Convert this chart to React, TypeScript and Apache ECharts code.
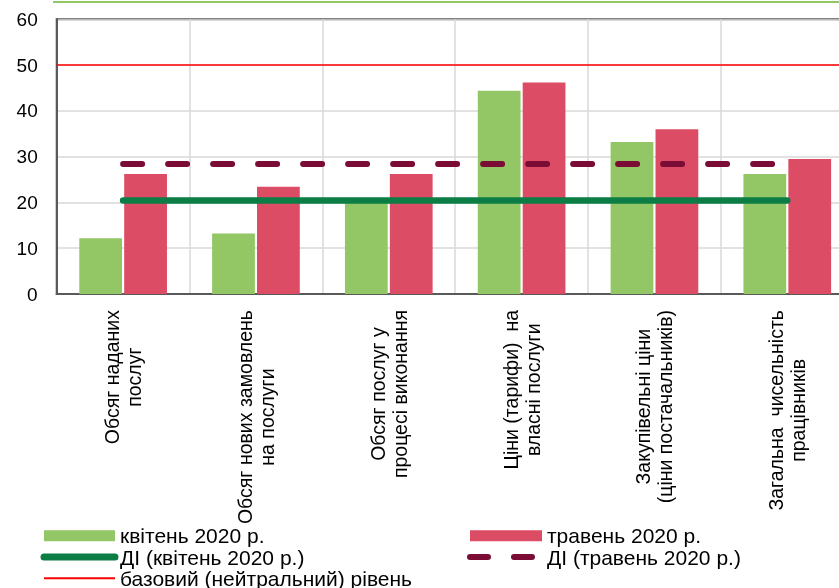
import React, { useEffect, useRef } from "react";
import * as echarts from "echarts";

const categories = [
  "Обсяг наданих\nпослуг",
  "Обсяг нових замовлень\nна послуги",
  "Обсяг послуг у\nпроцесі виконання",
  "Ціни (тарифи)  на\nвласні послуги",
  "Закупівельні ціни\n(ціни постачальників)",
  "Загальна  чисельність\nпрацівників",
];
const april = [12.2, 13.2, 20.6, 44.4, 33.2, 26.2];
const may = [26.2, 23.4, 26.2, 46.2, 36.0, 29.5];
const diApril = [20.4, 20.4, 20.4, 20.4, 20.4, 20.4];
const diMay = [28.4, 28.4, 28.4, 28.4, 28.4, 28.4];
const baseline = 50;

const nameApr = "квітень 2020 р.";
const nameMay = "травень 2020 р.";
const nameDiApr = "ДІ (квітень 2020 р.)";
const nameDiMay = "ДІ (травень 2020 р.)";
const nameBase = "базовий (нейтральний) рівень";

const FONT = "'Liberation Sans', Arial, sans-serif";
const GREEN = "#93C664";
const RED = "#DC4C65";
const DGREEN = "#0B7D45";
const MAROON = "#7B0C35";

const hiddenSymbol = { color: "rgba(0,0,0,0)", borderWidth: 0, opacity: 0 };

export default function App() {
  const ref = useRef<HTMLDivElement>(null);
  useEffect(() => {
    if (!ref.current) return;
    const chart = echarts.init(ref.current, undefined, { renderer: "svg" });
    const legendText = { fontSize: 21, lineHeight: 19, color: "#000", fontFamily: FONT };
    chart.setOption({
      animation: false,
      graphic: [
        {
          type: "line",
          shape: { x1: 53, y1: 2, x2: 839, y2: 2 },
          style: { stroke: "#92C765", lineWidth: 2 },
        },
      ],
      grid: {
        left: 56.7,
        top: 19.3,
        width: 797,
        bottom: 294,
        outerBoundsMode: "none",
        containLabel: false,
        show: true,
        borderColor: "#595959",
        borderWidth: 2,
        backgroundColor: "transparent",
      },
      legend: [
        {
          orient: "vertical",
          left: 40.5,
          top: 525.2,
          height: 80,
          padding: 0,
          itemGap: 0.3,
          itemWidth: 71,
          itemHeight: 11,
          selectedMode: false,
          textStyle: legendText,
          data: [
            { name: nameApr, icon: "rect" },
            {
              name: nameDiApr,
              lineStyle: { width: 7, cap: "round" },
              itemStyle: hiddenSymbol,
            },
            { name: nameBase, lineStyle: { width: 2 }, itemStyle: hiddenSymbol },
          ],
        },
        {
          orient: "vertical",
          left: 467,
          top: 525.2,
          height: 80,
          padding: 0,
          itemGap: 0.3,
          itemWidth: 72,
          itemHeight: 11,
          selectedMode: false,
          textStyle: legendText,
          data: [
            { name: nameMay, icon: "rect" },
            {
              name: nameDiMay,
              lineStyle: { width: 6, cap: "round", type: [18, 26] },
              itemStyle: hiddenSymbol,
            },
          ],
        },
      ],
      xAxis: {
        type: "category",
        data: categories,
        axisLine: { show: true, lineStyle: { color: "#595959", width: 2 } },
        axisTick: { show: false },
        splitLine: { show: true, interval: 0, lineStyle: { color: "#d9d9d9", width: 1.5 } },
        axisLabel: {
          interval: 0,
          rotate: 90,
          margin: 16,
          color: "#000",
          fontSize: 19.5,
          fontFamily: FONT,
          lineHeight: 22,
          formatter: (v: string) =>
            v
              .split("\n")
              .map((l) => `{c|${l}}`)
              .join("\n"),
          rich: {
            c: { align: "center", fontSize: 19.5, lineHeight: 22, color: "#000", fontFamily: FONT },
          },
        },
      },
      yAxis: {
        type: "value",
        min: 0,
        max: 60,
        interval: 10,
        axisLine: { show: true, lineStyle: { color: "#595959", width: 2 } },
        axisTick: { show: false },
        splitLine: { show: true, lineStyle: { color: "#d9d9d9", width: 1.5 } },
        axisLabel: { margin: 19, color: "#000", fontSize: 19, fontFamily: FONT },
      },
      series: [
        {
          name: nameApr,
          type: "bar",
          data: april,
          barCategoryGap: "34%",
          barGap: "5%",
          itemStyle: { color: GREEN },
          z: 2,
        },
        {
          name: nameMay,
          type: "bar",
          data: may,
          barCategoryGap: "34%",
          barGap: "5%",
          itemStyle: { color: RED },
          z: 2,
        },
        {
          name: nameDiApr,
          type: "line",
          data: diApril,
          symbol: "none",
          lineStyle: { color: DGREEN, width: 6.5, cap: "round" },
          itemStyle: { color: DGREEN },
          z: 4,
        },
        {
          name: nameDiMay,
          type: "line",
          data: diMay,
          symbol: "none",
          lineStyle: { color: MAROON, width: 6, type: [19, 26], cap: "round" },
          itemStyle: { color: MAROON },
          z: 4,
        },
        {
          name: nameBase,
          type: "line",
          data: [],
          symbol: "none",
          lineStyle: { color: "#ff0000", width: 1.5 },
          itemStyle: { color: "#ff0000" },
          markLine: {
            silent: true,
            symbol: "none",
            label: { show: false },
            lineStyle: { color: "#ff0000", width: 1.5, type: "solid" },
            data: [{ yAxis: baseline }],
          },
          z: 3,
        },
      ],
    });
    return () => chart.dispose();
  }, []);
  return (
    <div
      ref={ref}
      style={{ position: "fixed", left: 0, top: 0, width: 839, height: 588 }}
    />
  );
}
